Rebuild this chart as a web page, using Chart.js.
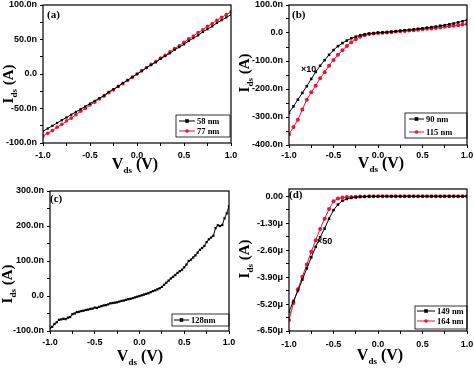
<!DOCTYPE html>
<html>
<head>
<meta charset="utf-8">
<script src="https://cdn.jsdelivr.net/npm/chart.js@4.4.1/dist/chart.umd.min.js"></script>
<style>
body { margin: 0; background: #fff; }
#wrap { position: relative; width: 474px; height: 369px; }
canvas { position: absolute; }
</style>
</head>
<body>
<div id="wrap">
<canvas id="ca" width="237" height="184" style="left:0;top:0"></canvas>
<canvas id="cb" width="237" height="184" style="left:237px;top:0"></canvas>
<canvas id="cc" width="237" height="185" style="left:0;top:184px"></canvas>
<canvas id="cd" width="237" height="185" style="left:237px;top:184px"></canvas>
</div>
<script>
// bias voltage (V)
const vds = [-1, -0.95, -0.9, -0.85, -0.8, -0.75, -0.7, -0.65, -0.6, -0.55, -0.5, -0.45, -0.4, -0.35, -0.3, -0.25, -0.2, -0.15, -0.1, -0.05,
  0, 0.05, 0.1, 0.15, 0.2, 0.25, 0.3, 0.35, 0.4, 0.45, 0.5, 0.55, 0.6, 0.65, 0.7, 0.75, 0.8, 0.85, 0.9, 0.95, 1];
const vdsFine = [-1, -0.975, -0.95, -0.925, -0.9, -0.875, -0.85, -0.825, -0.8, -0.775, -0.75, -0.725, -0.7, -0.675, -0.65, -0.625, -0.6, -0.575, -0.55, -0.525,
  -0.5, -0.475, -0.45, -0.425, -0.4, -0.375, -0.35, -0.325, -0.3, -0.275, -0.25, -0.225, -0.2, -0.175, -0.15, -0.125, -0.1, -0.075, -0.05, -0.025,
  0, 0.025, 0.05, 0.075, 0.1, 0.125, 0.15, 0.175, 0.2, 0.225, 0.25, 0.275, 0.3, 0.325, 0.35, 0.375, 0.4, 0.425, 0.45, 0.475,
  0.5, 0.525, 0.55, 0.575, 0.6, 0.625, 0.65, 0.675, 0.7, 0.725, 0.75, 0.775, 0.8, 0.825, 0.85, 0.875, 0.9, 0.925, 0.95, 0.975, 1];

// (a) current in nA
const a58 = [-83, -79, -75, -71, -67, -63, -59, -55, -51, -47, -43, -39, -35, -31, -26, -22, -18, -13, -9, -4,
  0, 4, 9, 13, 17, 22, 26, 30, 35, 39, 43, 48, 52, 56, 61, 65, 69, 74, 78, 82, 86];
const a77 = [-90, -86, -82, -77, -73, -68, -64, -59, -54, -50, -45, -41, -36, -32, -27, -23, -18, -14, -9, -5,
  0, 5, 9, 14, 18, 23, 27, 32, 37, 41, 46, 51, 55, 60, 64, 69, 73, 78, 82, 86, 90];

// (b) current in nA
const b90 = [-285, -262, -238, -214, -190, -164, -139, -117, -97, -78, -61, -47, -36, -27, -19, -13, -8, -5, -2, -1,
  1, 2, 3, 5, 6, 8, 10, 11, 13, 15, 17, 19, 21, 23, 26, 28, 31, 34, 38, 42, 46];
const b115 = [-362, -336, -310, -273, -238, -212, -188, -162, -140, -117, -96, -78, -62, -46, -33, -22, -13, -8, -4, -2,
  0, 1, 2, 3, 5, 6, 7, 9, 10, 12, 13, 15, 16, 18, 20, 22, 24, 26, 28, 30, 32];

// (c) current in nA
const c128 = [-92, -88, -80, -75, -68, -67, -65, -66, -62, -60, -52, -50, -46, -45, -43, -42, -40, -39, -37, -36,
  -33, -34, -31, -29, -27, -26, -24, -21, -20, -19, -18, -16, -14, -13, -11, -9, -8, -6, -4, -2,
  0, 2, 4, 6, 8, 11, 14, 16, 19, 22, 26, 32, 38, 44, 50, 55, 60, 66, 71, 75,
  82, 90, 100, 104, 110, 116, 124, 132, 137, 143, 154, 162, 167, 172, 194, 202, 200, 203, 222, 236, 257];

// (d) current in uA
const d149 = [-5.57, -5.05, -4.57, -4.02, -3.48, -2.95, -2.44, -1.98, -1.56, -1.08, -0.67, -0.40, -0.22, -0.13, -0.08, -0.05, -0.03, -0.02, -0.01, -0.01,
  0, 0, 0, 0, 0, 0, 0, 0, 0, 0, 0, 0, 0, 0, 0, 0, 0, 0, 0, 0, 0];
const d164 = [-5.97, -5.15, -4.48, -3.88, -3.29, -2.68, -2.12, -1.58, -1.08, -0.62, -0.24, -0.11, -0.06, -0.04, -0.03, -0.02, -0.01, -0.01, 0, 0,
  0, 0, 0, 0, 0, 0, 0, 0, 0, 0, 0, 0, 0, 0, 0, 0, 0, 0, 0, 0, 0];

// ticks (blank label = minor tick)
const xTicks = [-1, -0.75, -0.5, -0.25, 0, 0.25, 0.5, 0.75, 1];
const xTickLabels = ['-1.0', '', '-0.5', '', '0.0', '', '0.5', '', '1.0'];
const yTicksA = [-100, -75, -50, -25, 0, 25, 50, 75, 100];
const yLabelsA = ['-100.0n', '', '-50.0n', '', '0.0', '', '50.0n', '', '100.0n'];
const yTicksB = [-400, -350, -300, -250, -200, -150, -100, -50, 0, 50, 100];
const yLabelsB = ['-400.0n', '', '-300.0n', '', '-200.0n', '', '-100.0n', '', '0.0', '', '100.0n'];
const yTicksC = [-100, -50, 0, 50, 100, 150, 200, 250, 300];
const yLabelsC = ['-100.0n', '', '0.0', '', '100.0n', '', '200.0n', '', '300.0n'];
const yTicksD = [-6.5, -5.85, -5.2, -4.55, -3.9, -3.25, -2.6, -1.95, -1.3, -0.65, 0];
const yLabelsD = ['-6.50\u03bc', '', '-5.20\u03bc', '', '-3.90\u03bc', '', '-2.60\u03bc', '', '-1.30\u03bc', '', '0.00'];

const RED = '#ee1133';
const tickFont = { family: 'Liberation Sans', weight: 'bold', size: 9 };

function subTitle(ctx, main, sub, rest, x, y, rot, size) {
    const big = 'bold ' + size + 'px "Liberation Serif"', small = 'bold 9px "Liberation Serif"';
    ctx.save();
    ctx.translate(x, y);
    ctx.rotate(rot);
    ctx.textBaseline = 'alphabetic';
    ctx.textAlign = 'left';
    ctx.font = big; const w1 = ctx.measureText(main).width, w3 = ctx.measureText(rest).width;
    ctx.font = small; const w2 = ctx.measureText(sub).width;
    let s = -(w1 + w2 + w3) / 2;
    ctx.font = big; ctx.fillText(main, s, 0);
    ctx.font = small; ctx.fillText(sub, s + w1, 4);
    ctx.font = big; ctx.fillText(rest, s + w1 + w2, 0);
    ctx.restore();
}

function marker(ctx, style, x, y, r, color) {
    ctx.fillStyle = color;
    ctx.beginPath();
    if (style === 'rect') ctx.rect(x - r, y - r, 2 * r, 2 * r);
    else ctx.arc(x, y, r, 0, Math.PI * 2);
    ctx.fill();
}

// frame, panel tag, axis titles, legend box, notes
const deco = {
    id: 'deco',
    afterDraw(chart, args, o) {
        const ctx = chart.ctx, a = chart.chartArea;
        ctx.save();
        ctx.strokeStyle = '#000';
        ctx.lineWidth = 1.2;
        ctx.strokeRect(a.left, a.top, a.right - a.left, a.bottom - a.top);
        ctx.fillStyle = '#000';
        ctx.font = 'bold 11px "Liberation Serif"';
        ctx.textBaseline = 'middle';
        ctx.fillText(o.tag, o.tagAt[0], o.tagAt[1]);
        if (o.note) {
            ctx.font = 'bold 9px "Liberation Sans"';
            ctx.textAlign = 'center';
            ctx.fillText(o.note, chart.scales.x.getPixelForValue(o.noteAt[0]), chart.scales.y.getPixelForValue(o.noteAt[1]));
            ctx.textAlign = 'left';
        }
        subTitle(ctx, 'V', 'ds', ' (V)', o.xt[0], o.xt[1], 0, 16);
        subTitle(ctx, 'I', 'ds', ' (A)', o.yt[0], o.yt[1], -Math.PI / 2, 15);
        // legend
        const L = o.legend;
        ctx.lineWidth = 0.8;
        ctx.strokeStyle = '#000';
        ctx.strokeRect(L.box[0], L.box[1], L.box[2], L.box[3]);
        chart.data.datasets.forEach((ds, i) => {
            const y = L.rows[i];
            ctx.strokeStyle = ds.borderColor;
            ctx.lineWidth = 1;
            ctx.beginPath();
            ctx.moveTo(L.line[0], y);
            ctx.lineTo(L.line[1], y);
            ctx.stroke();
            marker(ctx, ds.pointStyle, (L.line[0] + L.line[1]) / 2, y, 1.8, ds.borderColor);
            ctx.fillStyle = '#000';
            ctx.font = 'bold 8.5px "Liberation Serif"';
            ctx.textBaseline = 'middle';
            ctx.fillText(ds.label, L.line[1] + 2, y + 0.5);
        });
        ctx.restore();
    }
};

function series(label, xs, ys, color, style, r) {
    return {
        label: label,
        data: xs.map((x, i) => ({ x: x, y: ys[i] })),
        showLine: true,
        borderColor: color,
        backgroundColor: color,
        borderWidth: 1,
        pointStyle: style,
        pointRadius: r,
        pointBorderWidth: 0,
        pointHoverRadius: r
    };
}

function makeChart(id, o) {
    return new Chart(document.getElementById(id).getContext('2d'), {
        type: 'scatter',
        data: { datasets: o.datasets },
        plugins: [deco],
        options: {
            responsive: false,
            animation: false,
            layout: { padding: { top: o.padTop, right: o.padRight, left: 0, bottom: 0 } },
            plugins: {
                legend: { display: false },
                tooltip: { enabled: false },
                deco: o.deco
            },
            scales: {
                x: {
                    type: 'linear', min: -1, max: 1,
                    afterBuildTicks: s => { s.ticks = xTicks.map(v => ({ value: v })); },
                    afterFit: s => { s.height = o.xHeight; s.paddingLeft = 0; s.paddingRight = 0; },
                    grid: { drawOnChartArea: false, drawTicks: true, tickLength: 3, color: '#000' },
                    border: { display: false },
                    ticks: { callback: (v, i) => xTickLabels[i], padding: o.xPad, autoSkip: false, maxRotation: 0, color: '#000', font: tickFont }
                },
                y: {
                    type: 'linear', min: o.yMin, max: o.yMax,
                    afterBuildTicks: s => { s.ticks = o.yTicks.map(v => ({ value: v })); },
                    afterFit: s => { s.width = o.yWidth; s.paddingTop = 0; s.paddingBottom = 0; },
                    grid: { drawOnChartArea: false, drawTicks: true, tickLength: 3, color: '#000' },
                    border: { display: false },
                    ticks: { callback: (v, i) => o.yLabels[i], padding: 3, autoSkip: false, color: '#000', font: tickFont }
                }
            }
        }
    });
}

makeChart('ca', {
    datasets: [series('58 nm', vds, a58, '#000000', 'rect', 1.6), series('77 nm', vds, a77, RED, 'circle', 1.8)],
    yMin: -100, yMax: 100, yTicks: yTicksA, yLabels: yLabelsA,
    padTop: 5, padRight: 6, yWidth: 43, xHeight: 41, xPad: 4,
    deco: { tag: '(a)', tagAt: [47, 15], xt: [135, 169], yt: [13, 84],
        legend: { box: [176, 115, 54, 22], rows: [121, 131], line: [179, 195] } }
});

makeChart('cb', {
    datasets: [series('90 nm', vds, b90, '#000000', 'rect', 1.8), series('115 nm', vds, b115, RED, 'circle', 2)],
    yMin: -400, yMax: 100, yTicks: yTicksB, yLabels: yLabelsB,
    padTop: 5, padRight: 7, yWidth: 52, xHeight: 39, xPad: 2,
    deco: { tag: '(b)', tagAt: [55, 15], xt: [144, 168], yt: [12, 73], note: '\u00d710', noteAt: [-0.78, -130],
        legend: { box: [168, 113, 62, 25], rows: [119, 132], line: [172, 187] } }
});

makeChart('cc', {
    datasets: [series('128nm', vdsFine, c128, '#000000', 'rect', 1.6)],
    yMin: -100, yMax: 300, yTicks: yTicksC, yLabels: yLabelsC,
    padTop: 7, padRight: 8, yWidth: 50, xHeight: 38, xPad: 3,
    deco: { tag: '(c)', tagAt: [50, 15], xt: [140, 177], yt: [12, 100],
        legend: { box: [172, 130, 57, 12], rows: [136], line: [174, 189] } }
});

makeChart('cd', {
    datasets: [series('149 nm', vds, d149, '#000000', 'rect', 1.8), series('164 nm', vds, d164, RED, 'circle', 2)],
    yMin: -6.5, yMax: 0.35, yTicks: yTicksD, yLabels: yLabelsD,
    padTop: 5, padRight: 7, yWidth: 52, xHeight: 38, xPad: 5,
    deco: { tag: '(d)', tagAt: [52, 11], xt: [143, 176], yt: [12, 75], note: '\u00d750', noteAt: [-0.6, -2.2],
        legend: { box: [178, 122, 52, 23], rows: [127, 137], line: [180, 198] } }
});
</script>
</body>
</html>
